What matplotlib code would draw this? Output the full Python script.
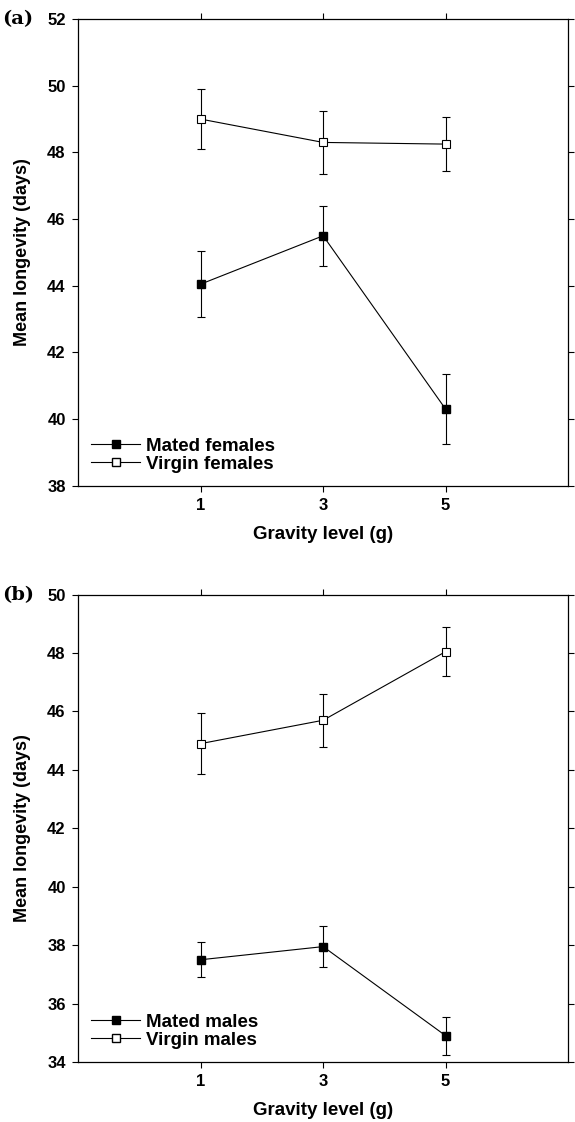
import matplotlib.pyplot as plt
from matplotlib.lines import Line2D

# gravity levels on the x axis
gravity = [1, 3, 5]

# panel (a): females
mated_f = [44.05, 45.5, 40.3]
mated_f_err = [1.0, 0.9, 1.05]
virgin_f = [49.0, 48.3, 48.25]
virgin_f_err = [0.9, 0.95, 0.8]

# panel (b): males
mated_m = [37.5, 37.95, 34.9]
mated_m_err = [0.6, 0.7, 0.65]
virgin_m = [44.9, 45.7, 48.05]
virgin_m_err = [1.05, 0.9, 0.85]

plt.rcParams['font.family'] = ['Liberation Sans', 'DejaVu Sans']

fig = plt.figure(figsize=(5.75, 11.22), dpi=100)
ax_a = fig.add_axes([0.136, 0.567, 0.852, 0.416])
ax_b = fig.add_axes([0.136, 0.0535, 0.852, 0.4165])


def panel(ax, mated, mated_err, virgin, virgin_err, ylim, yticks, names, tag):
    ax.errorbar(gravity, mated, yerr=mated_err, color='black', lw=0.8,
                marker='s', ms=6, mfc='black', mec='black',
                capsize=3, elinewidth=0.8, capthick=0.8)
    ax.errorbar(gravity, virgin, yerr=virgin_err, color='black', lw=0.8,
                marker='s', ms=6, mfc='white', mec='black', mew=0.8,
                capsize=3, elinewidth=0.8, capthick=0.8)
    ax.set_xlim(-1, 7)
    ax.set_ylim(*ylim)
    ax.set_xticks(gravity)
    ax.set_yticks(yticks)
    ax.tick_params(direction='out', length=4, width=0.8, labelsize=12,
                   top=True, right=True, pad=5)
    for lab in ax.get_xticklabels() + ax.get_yticklabels():
        lab.set_fontweight('bold')
    for s in ax.spines.values():
        s.set_linewidth(0.9)
    ax.set_xlabel('Gravity level (g)', fontsize=13.5, fontweight='bold', labelpad=9)
    ax.set_ylabel('Mean longevity (days)', fontsize=13, fontweight='bold', labelpad=12)
    handles = [
        Line2D([], [], color='black', lw=0.8, marker='s', ms=6, mfc='black', mec='black'),
        Line2D([], [], color='black', lw=0.8, marker='s', ms=6, mfc='white', mec='black'),
    ]
    ax.legend(handles, names, loc='lower left', frameon=False,
              prop={'weight': 'bold', 'size': 13.5}, handlelength=2.6,
              handletextpad=0.3, labelspacing=0.05, borderaxespad=0.3)
    ax.text(-0.155, 1.0, tag, transform=ax.transAxes, fontsize=14,
            fontweight='bold', family='DejaVu Serif', va='center', ha='left')


panel(ax_a, mated_f, mated_f_err, virgin_f, virgin_f_err, (38, 52),
      range(38, 53, 2), ['Mated females', 'Virgin females'], '(a)')
panel(ax_b, mated_m, mated_m_err, virgin_m, virgin_m_err, (34, 50),
      range(34, 51, 2), ['Mated males', 'Virgin males'], '(b)')

plt.savefig('out.png', dpi=100)
